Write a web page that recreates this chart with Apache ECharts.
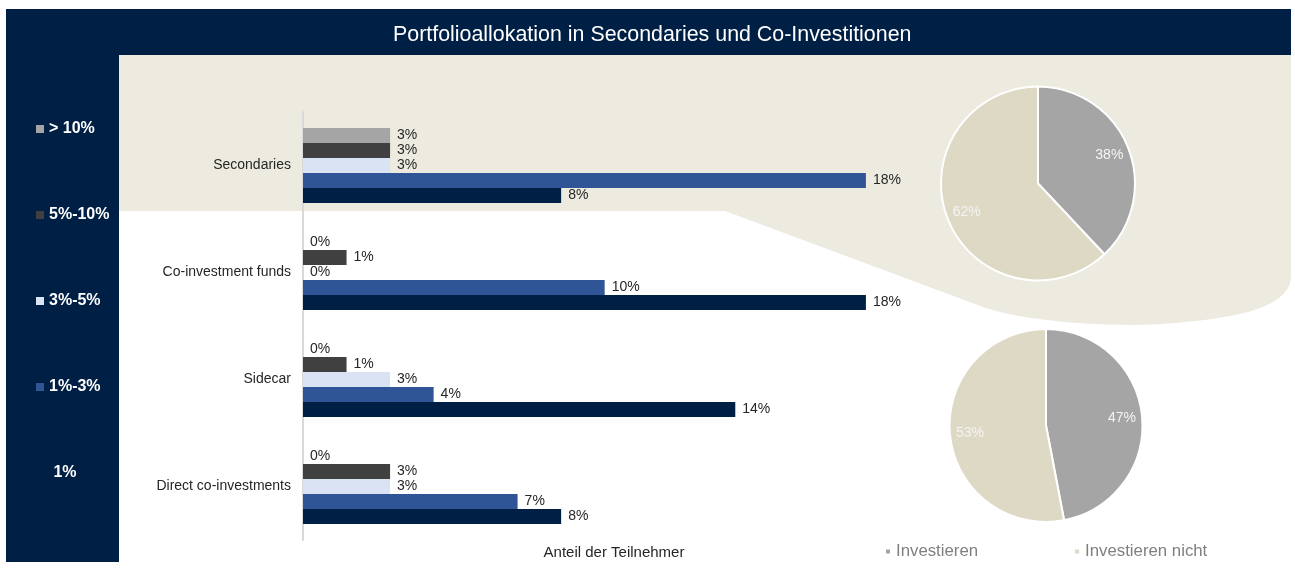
<!DOCTYPE html>
<html>
<head>
<meta charset="utf-8">
<script src="https://cdn.jsdelivr.net/npm/echarts@6/dist/echarts.min.js"></script>
<style>
  html, body { margin: 0; padding: 0; background: #fff; }
  #chart { width: 1295px; height: 576px; }
</style>
</head>
<body>
<div id="chart"></div>
<script>
// Kategorien und Anteile (in %) je Allokationsklasse
var categories = ['Secondaries', 'Co-investment funds', 'Sidecar', 'Direct co-investments'];
var classNames = ['> 10%', '5%-10%', '3%-5%', '1%-3%', '1%'];
var over10 = [2.8, 0, 0, 0];
var from5to10 = [2.8, 1.4, 1.4, 2.8];
var from3to5 = [2.8, 0, 2.8, 2.8];
var from1to3 = [18.1, 9.7, 4.2, 6.9];
var upTo1 = [8.3, 18.1, 13.9, 8.3];

// Kreisdiagramme: investieren / investieren nicht
var pieNames = ['Investieren', 'Investieren nicht'];
var pieSecondaries = [38, 62];
var pieCoInvest = [47, 53];

var NAVY = '#001f45';
var barColors = ['#a5a5a5', '#404040', '#dae3f3', '#2f5597', NAVY];
var pieColors = ['#a5a5a5', '#ddd9c4'];

var chart = echarts.init(document.getElementById('chart'));

// quadratische Kurve als Punkte fuer das Polygon
function quad(p0, p1, p2, steps) {
    var pts = [];
    for (var i = 1; i <= steps; i++) {
        var t = i / steps, u = 1 - t;
        pts.push([u * u * p0[0] + 2 * u * t * p1[0] + t * t * p2[0],
                  u * u * p0[1] + 2 * u * t * p1[1] + t * t * p2[1]]);
    }
    return pts;
}

var calloutPts = [[119, 55], [1291, 55], [1291, 276]]
    .concat(quad([1291, 276], [1291, 302], [1240, 314], 12))
    .concat(quad([1240, 314], [1170, 328], [1095, 324], 12))
    .concat(quad([1095, 324], [1020, 320], [983, 307], 12))
    .concat([[725, 211], [119, 211]]);

function barSeries(name, values, color) {
    return {
        name: name,
        type: 'bar',
        data: values,
        barWidth: 15,
        barGap: '0%',
        itemStyle: { color: color },
        label: {
            show: true,
            position: 'right',
            distance: 7,
            color: '#262626',
            fontSize: 14,
            formatter: function(p) { return Math.round(p.value) + '%'; }
        }
    };
}

function pieData(values) {
    return values.map(function(v, i) {
        return { name: pieNames[i], value: v, itemStyle: { color: pieColors[i] } };
    });
}

function pieSeries(values, center, r) {
    return [{
        type: 'pie',
        center: center,
        radius: [0, r],
        startAngle: 90,
        data: pieData(values),
        label: { show: false },
        labelLine: { show: false },
        itemStyle: { borderColor: '#fff', borderWidth: 2 },
        emphasis: { disabled: true }
    }, {
        // nur fuer die Beschriftung, weiter aussen im Kreis
        type: 'pie',
        center: center,
        radius: [r * 0.52, r],
        startAngle: 90,
        silent: true,
        data: values.map(function(v, i) {
            return { name: pieNames[i], value: v, itemStyle: { color: 'rgba(0,0,0,0)' } };
        }),
        label: {
            show: true,
            position: 'inside',
            color: '#f4f4f4',
            fontSize: 14,
            formatter: '{c}%'
        },
        labelLine: { show: false },
        emphasis: { disabled: true }
    }];
}

var series = [
    barSeries(classNames[0], over10, barColors[0]),
    barSeries(classNames[1], from5to10, barColors[1]),
    barSeries(classNames[2], from3to5, barColors[2]),
    barSeries(classNames[3], from1to3, barColors[3]),
    barSeries(classNames[4], upTo1, barColors[4])
].concat(pieSeries(pieSecondaries, [1038, 183.5], 97))
 .concat(pieSeries(pieCoInvest, [1046, 425.5], 96.5));

var option = {
    animation: false,
    textStyle: { fontFamily: 'Arial, "Liberation Sans", sans-serif' },
    graphic: {
        elements: [
            {   // Titelleiste
                type: 'rect', z: -1,
                shape: { x: 6, y: 9, width: 1285, height: 46 },
                style: { fill: NAVY }
            },
            {   // linke Leiste
                type: 'rect', z: -1,
                shape: { x: 6, y: 55, width: 113, height: 507 },
                style: { fill: NAVY }
            },
            {   // Hervorhebung Secondaries
                type: 'polygon', z: -1,
                shape: { points: calloutPts },
                style: { fill: '#edeae0' }
            }
        ]
    },
    title: {
        text: 'Portfolioallokation in Secondaries und Co-Investitionen',
        left: 388,
        top: 20,
        textStyle: { color: '#fff', fontSize: 21.4, fontWeight: 'normal' }
    },
    legend: [{
        data: classNames,
        orient: 'vertical',
        left: 36,
        top: 121,
        padding: 0,
        itemWidth: 8,
        itemHeight: 8,
        itemGap: 70,
        icon: 'rect',
        selectedMode: false,
        formatter: function(name) { return name === '1%' ? ' 1%' : name; },
        textStyle: { color: '#fff', fontWeight: 'bold', fontSize: 16, lineHeight: 16 }
    }, {
        data: pieNames,
        orient: 'horizontal',
        left: 884,
        top: 543,
        padding: 0,
        itemWidth: 6,
        itemHeight: 6,
        itemGap: 95,
        icon: 'rect',
        selectedMode: false,
        textStyle: { color: '#7f7f7f', fontSize: 16.8 }
    }],
    grid: { left: 303, top: 112, width: 622, height: 428 },
    xAxis: {
        type: 'value',
        min: 0,
        max: 20,
        name: 'Anteil der Teilnehmer',
        nameLocation: 'middle',
        nameGap: 5,
        nameTextStyle: { color: '#262626', fontSize: 15 },
        axisLine: { show: false },
        axisTick: { show: false },
        axisLabel: { show: false },
        splitLine: { show: false }
    },
    yAxis: {
        type: 'category',
        data: categories,
        inverse: true,
        axisLine: { show: true, lineStyle: { color: '#d9d9d9', width: 2 } },
        axisTick: { show: false },
        axisLabel: { color: '#262626', fontSize: 14, margin: 12 }
    },
    series: series
};

chart.setOption(option);
</script>
</body>
</html>
